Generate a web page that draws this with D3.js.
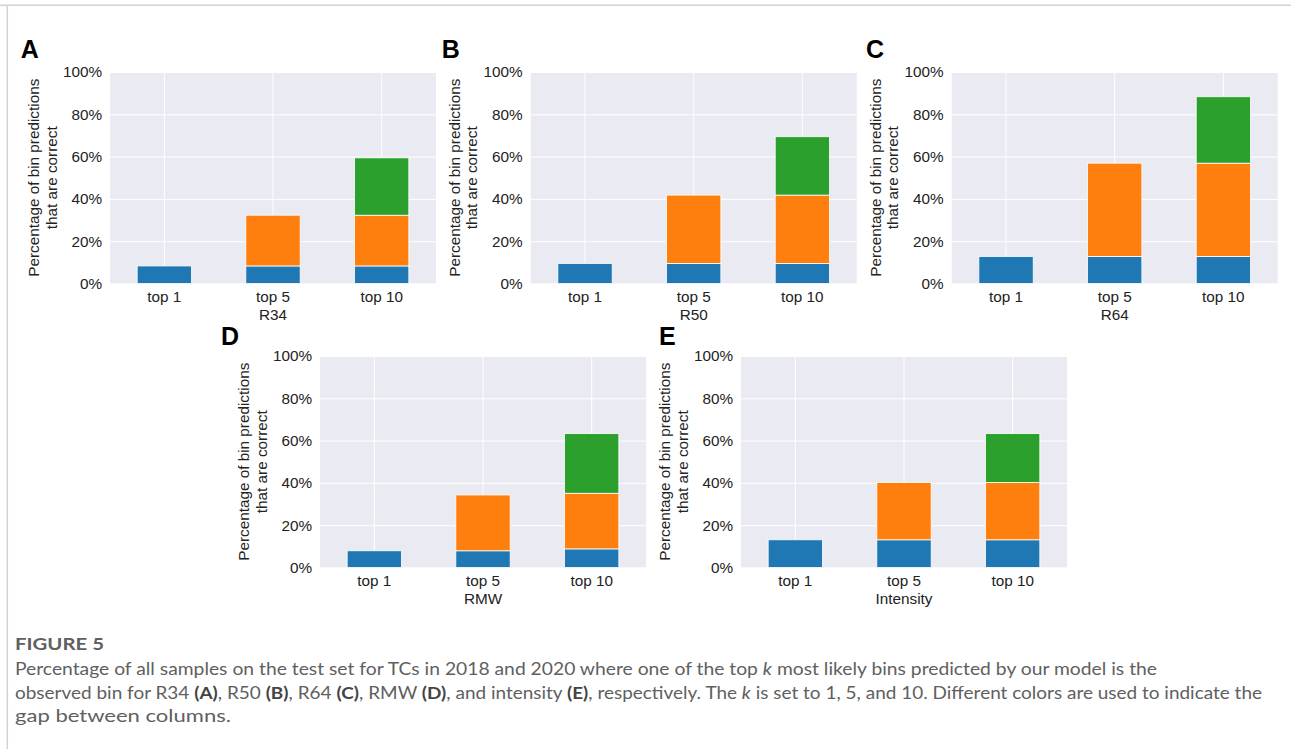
<!DOCTYPE html>
<html>
<head>
<meta charset="utf-8">
<script src="https://cdn.jsdelivr.net/npm/d3@7"></script>
<style>
  body { margin: 0; background: #fff; }
  svg { display: block; }
</style>
</head>
<body>
<div id="chart"></div>
<script>

// data (percent)
var categories = ["top 1", "top 5", "top 10"];
var panelNames = ["R34", "R50", "R64", "RMW", "Intensity"];
var letters = ["A", "B", "C", "D", "E"];
var yTicks = [0, 20, 40, 60, 80, 100];

// stacked segment heights per panel, one value per category
var blueVals = [
    [8.3, 8.3, 8.3],
    [9.5, 9.5, 9.5],
    [12.8, 12.8, 12.8],
    [7.9, 7.9, 8.8],
    [13.1, 13.1, 13.1]
];
var orangeVals = [
    [0, 24.0, 24.0],
    [0, 32.3, 32.3],
    [0, 44.1, 44.1],
    [0, 26.4, 26.3],
    [0, 27.1, 27.1]
];
var greenVals = [
    [0, 0, 27.1],
    [0, 0, 27.6],
    [0, 0, 31.4],
    [0, 0, 28.2],
    [0, 0, 23.1]
];

var colors = ["#1f77b4", "#ff7f0e", "#2ca02c"];

// layout
var width = 1291, height = 749;
var plotW = 326, plotH = 211.5;
var panelX = [110, 530.7, 951.7, 320, 741];
var panelY = [72, 72, 72, 356, 356];
var letterX = [20.7, 441.7, 866, 221, 659];
var letterY = [58, 58, 58, 345, 345];

var svg = d3.select("#chart").append("svg")
    .attr("width", width)
    .attr("height", height);

// page frame
svg.append("line")
    .attr("x1", 0).attr("x2", width)
    .attr("y1", 5.3).attr("y2", 5.3)
    .attr("stroke", "#d3d3d3").attr("stroke-width", 1.5);
svg.append("line")
    .attr("x1", 7.3).attr("x2", 7.3)
    .attr("y1", 5.3).attr("y2", height)
    .attr("stroke", "#d3d3d3").attr("stroke-width", 1.5);

var x = d3.scaleBand().domain(categories).range([0, plotW]).padding(0);
var y = d3.scaleLinear().domain([0, 100]).range([plotH, 0]);

var stack = d3.stack().keys(["blue", "orange", "green"]);

var txt = "#222";

panelNames.forEach(function(name, i) {
    var g = svg.append("g")
        .attr("transform", "translate(" + panelX[i] + "," + panelY[i] + ")")
        .style("font-family", "'Liberation Sans', Arial, sans-serif");

    g.append("rect")
        .attr("width", plotW)
        .attr("height", plotH)
        .attr("fill", "#eaeaf2");

    // grid
    g.append("g")
        .call(d3.axisLeft(y).tickValues(yTicks).tickSize(-plotW).tickFormat(""))
        .call(function(s) {
            s.select(".domain").remove();
            s.selectAll("line").attr("stroke", "#fff").attr("stroke-width", 1);
        });
    g.append("g")
        .attr("transform", "translate(0," + plotH + ")")
        .call(d3.axisBottom(x).tickSize(-plotH).tickFormat(""))
        .call(function(s) {
            s.select(".domain").remove();
            s.selectAll("line").attr("stroke", "#fff").attr("stroke-width", 1);
        });

    var rows = categories.map(function(c, j) {
        return { cat: c, blue: blueVals[i][j], orange: orangeVals[i][j], green: greenVals[i][j] };
    });
    var series = stack(rows);

    var bw = x.bandwidth() * 0.5;
    g.selectAll(".series")
        .data(series)
        .enter().append("g")
        .attr("fill", function(d, k) { return colors[k]; })
        .selectAll("rect")
        .data(function(d) { return d.filter(function(p) { return p[1] - p[0] > 0; }); })
        .enter().append("rect")
        .attr("x", function(d) { return x(d.data.cat) + (x.bandwidth() - bw) / 2; })
        .attr("width", bw)
        .attr("y", function(d) { return y(d[1]); })
        .attr("height", function(d) { return y(d[0]) - y(d[1]); })
        .attr("stroke", "#fff")
        .attr("stroke-width", 0.8);

    // axes
    g.append("g")
        .call(d3.axisLeft(y).tickValues(yTicks).tickSize(0).tickPadding(8)
            .tickFormat(function(d) { return d + "%"; }))
        .call(function(s) {
            s.select(".domain").remove();
            s.selectAll("text").attr("fill", txt)
                .style("font-size", "15.3px")
                .style("font-family", "'Liberation Sans', Arial, sans-serif");
        });
    g.append("g")
        .attr("transform", "translate(0," + plotH + ")")
        .call(d3.axisBottom(x).tickSize(0).tickPadding(7.3))
        .call(function(s) {
            s.select(".domain").remove();
            s.selectAll("text").attr("fill", txt)
                .style("font-size", "15.3px")
                .style("font-family", "'Liberation Sans', Arial, sans-serif");
        });

    // x label
    g.append("text")
        .attr("x", plotW / 2)
        .attr("y", plotH + 36)
        .attr("text-anchor", "middle")
        .attr("fill", txt)
        .style("font-size", "15.3px")
        .text(name);

    // y label, two lines
    var yl = g.append("text")
        .attr("transform", "translate(-71," + plotH / 2 + ") rotate(-90)")
        .attr("text-anchor", "middle")
        .attr("fill", txt)
        .style("font-size", "15.3px");
    yl.append("tspan").attr("x", 0).attr("y", 0).text("Percentage of bin predictions");
    yl.append("tspan").attr("x", 0).attr("y", 17.5).text("that are correct");

    // panel letter
    svg.append("text")
        .attr("x", letterX[i])
        .attr("y", letterY[i])
        .attr("fill", "#000")
        .style("font-family", "'Liberation Sans', Arial, sans-serif")
        .style("font-weight", "bold")
        .style("font-size", "25px")
        .text(letters[i]);
});

// caption
var capFont = "Lato, 'Open Sans', sans-serif";
var capX = 15;
svg.append("text")
    .attr("x", capX).attr("y", 650)
    .attr("fill", "#606060")
    .attr("textLength", 89)
    .attr("lengthAdjust", "spacingAndGlyphs")
    .style("font-family", capFont)
    .style("font-weight", "bold")
    .style("font-size", "17.5px")
    .text("FIGURE 5");

var capLines = [
    { y: 674.5, len: 1142, parts: [
        ["Percentage of all samples on the test set for TCs in 2018 and 2020 where one of the top ", ""],
        ["k", "i"],
        [" most likely bins predicted by our model is the", ""]] },
    { y: 699, len: 1247, parts: [
        ["observed bin for R34 ", ""], ["(A)", "b"], [", R50 ", ""], ["(B)", "b"],
        [", R64 ", ""], ["(C)", "b"], [", RMW ", ""], ["(D)", "b"],
        [", and intensity ", ""], ["(E)", "b"], [", respectively. The ", ""], ["k", "i"],
        [" is set to 1, 5, and 10. Different colors are used to indicate the", ""]] },
    { y: 721.5, len: 216, parts: [["gap between columns.", ""]] }
];

capLines.forEach(function(line) {
    var t = svg.append("text")
        .attr("x", capX).attr("y", line.y)
        .attr("fill", "#606060")
        .attr("textLength", line.len)
        .attr("lengthAdjust", "spacingAndGlyphs")
        .style("font-family", capFont)
        .style("font-size", "17.5px");
    line.parts.forEach(function(p) {
        var ts = t.append("tspan").text(p[0]);
        if (p[1] == "b") ts.style("font-weight", "bold").attr("fill", "#444");
        if (p[1] == "i") ts.style("font-style", "italic");
    });
});

</script>
</body>
</html>
